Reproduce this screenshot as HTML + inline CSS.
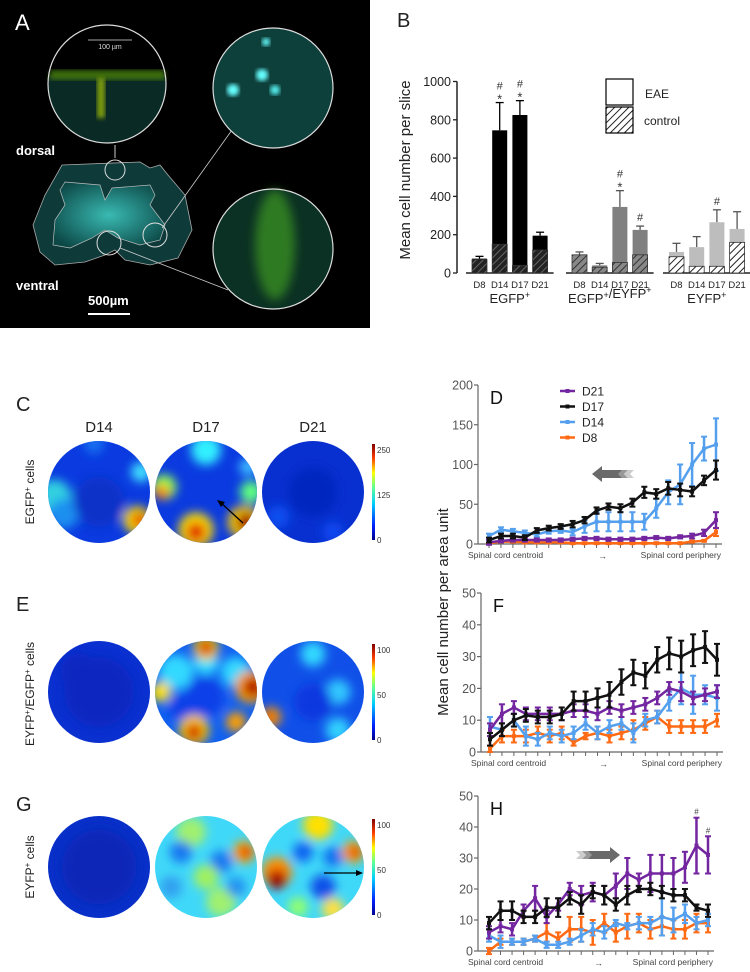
<!DOCTYPE html>
<html><head><meta charset="utf-8">
<style>
body{margin:0;background:#fff;width:750px;height:972px;overflow:hidden;font-family:"Liberation Sans",sans-serif;}
svg{position:absolute;left:0;top:0;}
text{font-family:"Liberation Sans","DejaVu Sans",sans-serif;}
</style></head>
<body>
<svg id="fig" width="750" height="972" viewBox="0 0 750 972">
<defs>
  <pattern id="hatchDark" width="5" height="5" patternUnits="userSpaceOnUse" patternTransform="rotate(45)"><rect width="5" height="5" fill="#222"/><line x1="0" y1="0" x2="0" y2="5" stroke="#666" stroke-width="2"/></pattern>
  <pattern id="hatchMid" width="5" height="5" patternUnits="userSpaceOnUse" patternTransform="rotate(45)"><rect width="5" height="5" fill="#888"/><line x1="0" y1="0" x2="0" y2="5" stroke="#333" stroke-width="2"/></pattern>
  <pattern id="hatchLight" width="5" height="5" patternUnits="userSpaceOnUse" patternTransform="rotate(45)"><rect width="5" height="5" fill="#fff"/><line x1="0" y1="0" x2="0" y2="5" stroke="#222" stroke-width="2"/></pattern>
  <filter id="blur6" x="-30%" y="-30%" width="160%" height="160%"><feGaussianBlur stdDeviation="5"/></filter>
  <filter id="blur3"><feGaussianBlur stdDeviation="2.5"/></filter>
  <linearGradient id="jet" x1="0" y1="1" x2="0" y2="0">
    <stop offset="0" stop-color="#00008f"/><stop offset="0.15" stop-color="#0020ff"/><stop offset="0.38" stop-color="#00d0ff"/><stop offset="0.55" stop-color="#60ff90"/><stop offset="0.7" stop-color="#ffff00"/><stop offset="0.85" stop-color="#ff4000"/><stop offset="1" stop-color="#800000"/>
  </linearGradient>
  <radialGradient id="cordGlow" cx="0.5" cy="0.5" r="0.6"><stop offset="0" stop-color="#3fc8c0"/><stop offset="1" stop-color="#0c4a48"/></radialGradient>
</defs>

<!-- Panel A -->
<g>
  <rect x="0" y="0" width="370" height="328" fill="#000"/>
  <text x="15" y="30" font-size="22" fill="#fff">A</text>
  <g>
    <path d="M62,165 L140,162 L150,168 L160,165 L168,175 L185,195 L192,230 L178,258 L150,265 L125,260 L115,250 L105,255 L85,262 L55,265 L40,252 L33,225 L45,195 Z" fill="#0e3b3a" stroke="#aaa" stroke-width="0.8"/>
    <path d="M65,182 L100,185 L105,200 L112,188 L150,185 L155,195 L150,205 L165,225 L160,240 L140,245 L118,238 L105,230 L92,238 L70,248 L53,245 L55,220 L65,205 L60,190 Z" fill="url(#cordGlow)" stroke="#ccc" stroke-width="0.7" opacity="0.9"/>
    <circle cx="115" cy="170" r="10" fill="none" stroke="#ddd" stroke-width="1"/>
    <circle cx="109" cy="243" r="12" fill="none" stroke="#ddd" stroke-width="1"/>
    <circle cx="155" cy="235" r="12" fill="none" stroke="#ddd" stroke-width="1"/>
    <line x1="115" y1="145" x2="115" y2="158" stroke="#ccc" stroke-width="1"/>
    <line x1="162" y1="228" x2="232" y2="130" stroke="#ccc" stroke-width="0.8"/>
    <line x1="120" y1="248" x2="228" y2="290" stroke="#ccc" stroke-width="0.8"/>
  </g>
  <g>
    <circle cx="107" cy="84" r="59" fill="#0a2a25"/>
    <rect x="50" y="25" width="115" height="50" fill="#000"/>
    <rect x="50" y="70" width="115" height="10" fill="#3a6a10" filter="url(#blur3)"/>
    <rect x="97" y="78" width="8" height="40" fill="#7a9a10" filter="url(#blur3)"/>
    <circle cx="107" cy="84" r="59" fill="none" stroke="#ddd" stroke-width="1.2"/>
    <line x1="88" y1="40" x2="132" y2="40" stroke="#ddd" stroke-width="0.8"/>
    <text x="110" y="49" font-size="7" fill="#ddd" text-anchor="middle">100 µm</text>
  </g>
  <g>
    <circle cx="273" cy="88" r="60" fill="#0d3f3b"/>
    <circle cx="262" cy="75" r="6" fill="#6ff" filter="url(#blur3)"/>
    <circle cx="275" cy="90" r="5" fill="#5ee" filter="url(#blur3)"/>
    <circle cx="233" cy="90" r="6" fill="#6ff" filter="url(#blur3)"/>
    <circle cx="266" cy="42" r="4" fill="#6ff" filter="url(#blur3)"/>
    <circle cx="273" cy="88" r="60" fill="none" stroke="#ddd" stroke-width="1.2"/>
  </g>
  <g>
    <circle cx="273" cy="249" r="60" fill="#0b3024"/>
    <ellipse cx="275" cy="245" rx="20" ry="55" fill="#2f7a20" filter="url(#blur6)"/>
    <circle cx="273" cy="249" r="60" fill="none" stroke="#ddd" stroke-width="1.2"/>
  </g>
  <text x="16" y="155" font-size="13" font-weight="bold" fill="#fff">dorsal</text>
  <text x="16" y="290" font-size="13" font-weight="bold" fill="#fff">ventral</text>
  <text x="88" y="305" font-size="13" font-weight="bold" fill="#fff">500µm</text>
  <line x1="88" y1="314" x2="130" y2="314" stroke="#fff" stroke-width="2"/>
</g>

<!-- Panel B -->
<g id="panelB">
  <text x="397" y="27" font-size="20" fill="#222">B</text>
  <text transform="translate(410,170) rotate(-90)" font-size="15" fill="#222" text-anchor="middle">Mean cell number per slice</text>
  <g>
    <rect x="606" y="79" width="27" height="26" fill="#fff" stroke="#000" stroke-width="1.2"/>
    <rect x="606" y="107" width="27" height="26" fill="url(#hatchLight)" stroke="#000" stroke-width="1.2"/>
    <text x="645" y="98" font-size="12" fill="#222">EAE</text>
    <text x="644" y="125" font-size="12" fill="#222">control</text>
  </g>
</g>

<!-- Heatmaps -->
<g id="heat">
  <text x="16" y="411" font-size="20" fill="#222">C</text>
  <text x="16" y="611" font-size="20" fill="#222">E</text>
  <text x="16" y="811" font-size="20" fill="#222">G</text>
  <text x="99" y="432" font-size="15" fill="#222" text-anchor="middle">D14</text>
  <text x="206" y="432" font-size="15" fill="#222" text-anchor="middle">D17</text>
  <text x="313" y="432" font-size="15" fill="#222" text-anchor="middle">D21</text>
  <text transform="translate(34,492) rotate(-90)" font-size="12" fill="#222" text-anchor="middle">EGFP<tspan font-size="8" dy="-4">+</tspan><tspan dy="4"> cells</tspan></text>
  <text transform="translate(34,694) rotate(-90)" font-size="12" fill="#222" text-anchor="middle">EYFP<tspan font-size="8" dy="-4">+</tspan><tspan dy="4">/EGFP</tspan><tspan font-size="8" dy="-4">+</tspan><tspan dy="4"> cells</tspan></text>
  <text transform="translate(34,867) rotate(-90)" font-size="12" fill="#222" text-anchor="middle">EYFP<tspan font-size="8" dy="-4">+</tspan><tspan dy="4"> cells</tspan></text>
</g>

<!-- line charts container -->
<g id="lines">
  <text transform="translate(448,612) rotate(-90)" font-size="15" fill="#222" text-anchor="middle">Mean cell number per area unit</text>
</g>
</svg>

<script>
const NS='http://www.w3.org/2000/svg';
function mk(parent,tag,attrs,txt){const e=document.createElementNS(NS,tag);for(const k in attrs)e.setAttribute(k,attrs[k]);if(txt!==undefined)e.textContent=txt;parent.appendChild(e);return e;}

/* ---------- Panel B data ---------- */
const bCategories=['D8','D14','D17','D21'];
const bGroups=['EGFP+','EGFP+/EYFP+','EYFP+'];
const bEAE_EGFP=[75,745,825,195];
const bEAE_EGFPEYFP=[95,40,345,225];
const bEAE_EYFP=[110,135,265,230];
const bCtl_EGFP=[70,150,40,120];
const bCtl_EGFPEYFP=[95,30,55,95];
const bCtl_EYFP=[85,35,35,160];
const bErr_EGFP=[12,145,75,18];
const bErr_EGFPEYFP=[15,10,85,20];
const bErr_EYFP=[45,55,65,90];
const bMarks_EGFP=['','#*','#*',''];
const bMarks_EGFPEYFP=['','','#*','#'];
const bMarks_EYFP=['','','#',''];
const bYTicks=[0,200,400,600,800,1000];

(function(){
  const g=document.getElementById('panelB');
  const yb=273, ys=0.1915, ax=457;
  const Y=v=>yb-v*ys;
  const groupStart=[472,572,669], step=20.2, bw=15;
  const X=(gi,ci)=>groupStart[gi]+ci*step;
  const eae=[bEAE_EGFP,bEAE_EGFPEYFP,bEAE_EYFP];
  const ctl=[bCtl_EGFP,bCtl_EGFPEYFP,bCtl_EYFP];
  const err=[bErr_EGFP,bErr_EGFPEYFP,bErr_EYFP];
  const marks=[bMarks_EGFP,bMarks_EGFPEYFP,bMarks_EYFP];
  const fills=['#000','#808080','#bdbdbd'];
  const hatch=['url(#hatchDark)','url(#hatchMid)','url(#hatchLight)'];
  const ax0=mk(g,'line',{x1:ax,y1:Y(0),x2:ax,y2:Y(1000),stroke:'#222','stroke-width':1.5});
  
  
  bYTicks.forEach(t=>{
    mk(g,'line',{x1:ax-4,y1:Y(t),x2:ax,y2:Y(t),stroke:'#222','stroke-width':1.3});
    const tx=mk(g,'text',{x:ax-6,y:Y(t)+4.5,'font-size':12.5,fill:'#222','text-anchor':'end'},String(t));
    
    
  });
  for(let gi=0;gi<3;gi++){
    const bl=mk(g,'line',{x1:X(gi,0)-6,y1:Y(0),x2:X(gi,3)+bw+6,y2:Y(0),stroke:'#222','stroke-width':1.5});
    
    
    for(let ci=0;ci<4;ci++){
      const x=X(gi,ci), v=eae[gi][ci], c=ctl[gi][ci], e=err[gi][ci];
      const ec=gi===0?'#000':'#555';
      mk(g,'line',{x1:x+bw/2,y1:Y(v),x2:x+bw/2,y2:Y(v+e),stroke:ec,'stroke-width':1.3});
      mk(g,'line',{x1:x+bw/2-4,y1:Y(v+e),x2:x+bw/2+4,y2:Y(v+e),stroke:ec,'stroke-width':1.3});
      const r=mk(g,'rect',{x:x,y:Y(v),width:bw,height:v*ys,fill:fills[gi]});
      
      
      const rc=mk(g,'rect',{x:x,y:Y(c),width:bw,height:c*ys,fill:hatch[gi],stroke:'#333','stroke-width':0.8});
      
      
      const m=marks[gi][ci];
      if(m.includes('#')){const t=mk(g,'text',{x:x+bw/2,y:Y(v+e)-(m.includes('*')?13:5),'font-size':11,fill:'#333','text-anchor':'middle'},'#');}
      if(m.includes('*')){const t=mk(g,'text',{x:x+bw/2,y:Y(v+e)+1,'font-size':13,fill:'#333','text-anchor':'middle'},'*');}
      const cl=mk(g,'text',{x:x+bw/2,y:288,'font-size':9.5,fill:'#222','text-anchor':'middle'},bCategories[ci]);
      
      
    }
    const gl=mk(g,'text',{x:(X(gi,0)+X(gi,3)+bw)/2,y:303,'font-size':13,fill:'#222','text-anchor':'middle'});
    
    
    gl.innerHTML=bGroups[gi].replace(/\+/g,'<tspan font-size="9" dy="-5">+</tspan><tspan dy="5"></tspan>');
  }
})();

/* ---------- Heatmaps ---------- */
(function(){
  const g=document.getElementById('heat');
  const cols=[99,206,313], rows=[492,692,867], R=51;
  const maps=[
   [ // C
    {bg:'#0a3ae0',b:[[-45,5,14,'#30d0e0'],[-35,22,12,'#1a90f0'],[42,-20,8,'#40e0ff'],[38,28,11,'#ffe000'],[40,28,6,'#e02000'],[-5,-48,8,'#1870f0'],[0,10,20,'#0830c8']]},
    {bg:'#0a3ae0',b:[[0,-42,12,'#30f0ff'],[-42,-5,10,'#90ff50'],[-44,0,6,'#ff8000'],[-10,38,14,'#ffe000'],[-10,40,8,'#e02000'],[38,30,13,'#ffd000'],[40,30,8,'#a00000'],[45,0,9,'#60ff80'],[42,-25,7,'#40c0ff']]},
    {bg:'#0830d0',b:[[-35,25,9,'#1050f0'],[20,40,8,'#1048f0'],[0,0,20,'#0628c0']]}
   ],
   [ // E
    {bg:'#0a30d0',b:[[0,0,28,'#0828c0'],[-20,-20,15,'#0828c0']]},
    {bg:'#1060f0',b:[[-30,-20,14,'#30d8ff'],[30,-20,12,'#30d8ff'],[0,-30,10,'#30e0ff'],[0,-44,10,'#ffd000'],[0,-44,6,'#d00000'],[45,-5,13,'#ffa000'],[47,-5,8,'#b00000'],[-12,38,12,'#ffd000'],[-12,40,7,'#d02000'],[30,30,8,'#ffa000'],[-45,0,8,'#ffe000'],[-2,5,16,'#0a40e8'],[-25,15,10,'#0a40e8']]},
    {bg:'#1050e8',b:[[-42,25,8,'#ffa000'],[-43,25,4,'#e02000'],[0,-38,10,'#30d8ff'],[25,38,10,'#30d0ff'],[25,0,10,'#30c8ff'],[0,10,15,'#0a38e0']]}
   ],
   [ // G
    {bg:'#0830c8',b:[[0,0,30,'#0828b8']]},
    {bg:'#40d8f8',b:[[38,-15,9,'#ffa000'],[40,-15,5,'#e03000'],[-15,-35,12,'#a0f070'],[15,35,12,'#a0f070'],[-25,-15,9,'#1878f0'],[15,-5,9,'#1878f0'],[-35,20,9,'#30a0f0'],[0,10,10,'#a0f060'],[30,20,8,'#2090f0']]},
    {bg:'#40d8f8',b:[[-36,5,12,'#ff9000'],[-36,12,8,'#c00000'],[-36,15,4,'#600000'],[5,-42,12,'#ffe000'],[40,-15,9,'#ffa000'],[42,-15,5,'#e04000'],[-10,-15,8,'#1060f0'],[20,-10,8,'#1070f0'],[10,20,10,'#0a50e8'],[20,42,9,'#ffe040'],[-15,40,8,'#90ff70']]}
   ]
  ];
  const names=['egfp','eyfp-egfp','eyfp'], days=['d14','d17','d21'];
  rows.forEach((cy,ri)=>{
    cols.forEach((cx,ci)=>{
      const m=maps[ri][ci];
      const id='clip'+ri+ci;
      const cp=mk(g,'clipPath',{id:id});mk(cp,'circle',{cx:cx,cy:cy,r:R});
      const hg=mk(g,'g',{'clip-path':'url(#'+id+')'});
      
      
      mk(hg,'circle',{cx:cx,cy:cy,r:R+6,fill:m.bg});
      const bg=mk(hg,'g',{filter:'url(#blur6)'});
      m.b.forEach(b=>mk(bg,'circle',{cx:cx+b[0],cy:cy+b[1],r:b[2]*1.25,fill:b[3]}));
    });
    const cbTop=cy-48, cbH=96;
    const cb=mk(g,'rect',{x:372,y:cbTop,width:3,height:cbH,fill:'url(#jet)'});
    
    
    const labs=ri===0?['250','125','0']:['100','50','0'];
    labs.forEach((l,i)=>{const t=mk(g,'text',{x:377,y:cbTop+9+i*(cbH/2)-(i===2?6:0)-(i===1?3:0),'font-size':8,fill:'#333'},l);});
  });
  const a1=mk(g,'line',{x1:243,y1:523,x2:220,y2:502,stroke:'#000','stroke-width':1.3});
  
  mk(g,'path',{d:'M217,500 L225,502 L221,507 Z',fill:'#000'});
  const a2=mk(g,'line',{x1:324,y1:873,x2:358,y2:873,stroke:'#000','stroke-width':1.3});
  
  mk(g,'path',{d:'M363,873 L356,870 L356,876 Z',fill:'#000'});
})();

/* ---------- Line charts data ---------- */
const dD21=[2,4,5,5,5,5,5,6,7,7,6,6,6,7,8,7,9,10,14,30];
const dD17=[5,10,10,8,17,20,22,25,30,42,47,45,52,65,63,70,68,66,80,93];
const dD14=[10,18,16,14,12,16,17,15,22,28,28,28,28,28,45,65,75,100,120,125];
const dD8 =[1,3,3,2,2,2,2,1,1,1,1,1,1,1,1,1,1,3,4,15];
const fD21=[7,12,14,12,12,12,12,13,13,12,14,13,14,15,17,20,19,17,18,19];
const fD17=[4,7,10,11.5,11,11,12,16,16,17,18,22,25,24,29,31,30,32,33,29];
const fD14=[8,7,10,5,4,6,5,6,9,6,8,9,6,10,11,16,20,18,18,17];
const fD8 =[1,5,5,5,6,5,6,3,5,6,5,6,7,9,11,8,8,8,8,10];
const hD21=[6,8,7,13,17,11,15,20,18,19,18,21,25,23,25,25,25,27,34,31];
const hD17=[9,13,13,11,11,14,14,17,15,19,18,15,18,20,20,19,18,18,14,13];
const hD14=[5,3,3,3,4,2,2,3,5,7,6,9,8,9,9,11,10,12,9,10];
const hD8 =[0,3,3,3,4,6,4,7,7,6,9,6,8,9,7,8,7,7,9,9];
const dErr=[[3,2,2,2,2,2,2,2,2,2,2,2,2,2,2,2,2,3,4,10],[3,3,3,3,3,3,3,4,4,4,4,5,5,7,6,8,8,6,6,12],[3,3,3,3,3,3,3,4,8,12,12,12,12,10,12,15,25,27,15,33],[1,1,1,1,1,1,1,1,1,1,1,1,1,1,1,1,1,1,1,5]];
const fErr=[[2,3,2,2,2,2,2,2,2,2,2,2,2,2,2,2,3,2,2,2],[2,2,2,2,2,2,2,3,3,3,4,4,4,4,4,5,5,5,5,5],[3,2,2,3,2,2,2,2,2,2,2,2,3,2,2,3,5,6,3,4],[1,2,2,2,2,2,2,1,1,2,2,2,3,2,2,2,2,2,2,2]];
const hErr=[[2,2,2,2,4,2,2,2,3,3,3,4,5,2,6,6,5,5,9,6],[2,3,3,2,2,3,3,2,3,2,3,2,3,1,2,2,2,2,1,2],[2,2,1,1,1,1,1,1,2,2,2,1,1,2,2,6,4,3,2,2],[1,1,1,1,1,3,2,4,4,4,3,3,4,3,3,3,3,3,3,3]];
const lineYTicksD=[0,50,100,150,200];
const lineYTicksFH=[0,10,20,30,40,50];
const seriesNames=['D21','D17','D14','D8'];
const seriesColors=['#7326a0','#111111','#55a0ee','#ff6a14'];

function lineChart(cfg){
  const g=document.getElementById('lines');
  const cg=mk(g,'g',{});
  
  
  const Y=v=>cfg.y0-(v/cfg.max)*(cfg.y0-cfg.yTop);
  const X=i=>cfg.x0+i*(cfg.x1-cfg.x0)/(cfg.series[0].length-1);
  const ya=mk(cg,'line',{x1:cfg.ax,y1:cfg.y0,x2:cfg.ax,y2:cfg.yTop,stroke:'#666','stroke-width':1.2});
  
  const xa=mk(cg,'line',{x1:cfg.ax,y1:cfg.y0,x2:cfg.x1+6,y2:cfg.y0,stroke:'#666','stroke-width':1.2});
  
  cfg.ticks.forEach(t=>{
    mk(cg,'line',{x1:cfg.ax-4,y1:Y(t),x2:cfg.ax,y2:Y(t),stroke:'#666','stroke-width':1.2});
    const tx=mk(cg,'text',{x:cfg.ax-5,y:Y(t)+4.5,'font-size':12.5,fill:'#555','text-anchor':'end'},String(t));
    
  });
  for(let i=0;i<cfg.series[0].length;i++) mk(cg,'line',{x1:X(i),y1:cfg.y0,x2:X(i),y2:cfg.y0+4,stroke:'#666','stroke-width':1});
  const l1=mk(cg,'text',{x:cfg.ax-10,y:cfg.y0+14,'font-size':8.5,fill:'#444'},'Spinal cord centroid');
  
  const l2=mk(cg,'text',{x:(cfg.x0+cfg.x1)/2,y:cfg.y0+15,'font-size':9,fill:'#444','text-anchor':'middle'},'→');
  
  const l3=mk(cg,'text',{x:cfg.x1+5,y:cfg.y0+14,'font-size':8.5,fill:'#444','text-anchor':'end'},'Spinal cord periphery');
  
  const pl=mk(cg,'text',{x:cfg.ax+12,y:cfg.yTop+19,'font-size':18,fill:'#111'},cfg.id);
  
  const order=[3,2,0,1];
  order.forEach(si=>{
    const s=cfg.series[si], e=cfg.err[si], col=seriesColors[si];
    const sg=mk(cg,'g',{});
    
    
    s.forEach((v,i)=>{
      mk(sg,'line',{x1:X(i),y1:Y(v-e[i]),x2:X(i),y2:Y(v+e[i]),stroke:col,'stroke-width':2.5});
      mk(sg,'line',{x1:X(i)-3,y1:Y(v+e[i]),x2:X(i)+3,y2:Y(v+e[i]),stroke:col,'stroke-width':2});
      mk(sg,'line',{x1:X(i)-3,y1:Y(v-e[i]),x2:X(i)+3,y2:Y(v-e[i]),stroke:col,'stroke-width':2});
    });
    mk(sg,'polyline',{points:s.map((v,i)=>X(i)+','+Y(v)).join(' '),fill:'none',stroke:col,'stroke-width':2.5});
    s.forEach((v,i)=>mk(sg,'rect',{x:X(i)-2,y:Y(v)-2,width:4,height:4,fill:col}));
  });
  if(cfg.hash){cfg.hash.forEach(i=>{const t=mk(cg,'text',{x:X(i),y:Y(cfg.series[0][i]+cfg.err[0][i])-3,'font-size':8,fill:'#444','text-anchor':'middle'},'#');});}
  return cg;
}
lineChart({id:'D',ax:478,x0:489,x1:716,y0:544,yTop:385,max:200,ticks:lineYTicksD,series:[dD21,dD17,dD14,dD8],err:dErr});
lineChart({id:'F',ax:481,x0:490,x1:717,y0:752,yTop:593,max:50,ticks:lineYTicksFH,series:[fD21,fD17,fD14,fD8],err:fErr});
lineChart({id:'H',ax:478,x0:489,x1:708,y0:951,yTop:796,max:50,ticks:lineYTicksFH,series:[hD21,hD17,hD14,hD8],err:hErr,hash:[18,19]});

(function(){
  const g=document.getElementById('lines');
  const lg=mk(g,'g',{});
  
  
  seriesNames.forEach((n,i)=>{
    const y=391+i*15.5;
    mk(lg,'line',{x1:560,y1:y,x2:575,y2:y,stroke:seriesColors[i],'stroke-width':2.5});
    mk(lg,'rect',{x:565.5,y:y-2,width:4,height:4,fill:seriesColors[i]});
    const t=mk(lg,'text',{x:582,y:y+4.5,'font-size':12,fill:'#222'},n);
    
  });
  const ar1=mk(g,'g',{});
  
  
  mk(ar1,'path',{d:'M592,474 L602,466 L602,470 L622,470 L622,478 L602,478 L602,482 Z',fill:'#6a6a6a'});
  mk(ar1,'path',{d:'M622,470 L628,470 L624,474 L628,478 L622,478 L618,474 Z',fill:'#999'});
  mk(ar1,'path',{d:'M628,470 L634,470 L630,474 L634,478 L628,478 L624,474 Z',fill:'#ccc'});
  const ar2=mk(g,'g',{});
  
  
  mk(ar2,'path',{d:'M620,855 L610,847 L610,851 L588,851 L588,859 L610,859 L610,863 Z',fill:'#6a6a6a'});
  mk(ar2,'path',{d:'M582,851 L588,851 L592,855 L588,859 L582,859 L586,855 Z',fill:'#999'});
  mk(ar2,'path',{d:'M576,851 L582,851 L586,855 L582,859 L576,859 L580,855 Z',fill:'#ccc'});
})();
</script>
</body></html>
